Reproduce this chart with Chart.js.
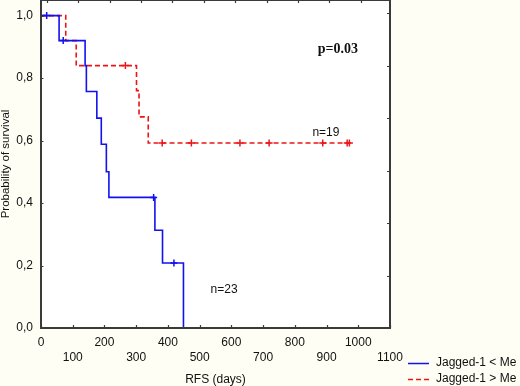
<!DOCTYPE html>
<html><head><meta charset="utf-8">
<script src="https://cdn.jsdelivr.net/npm/chart.js@4/dist/chart.umd.min.js"></script>
<style>html,body{margin:0;padding:0;background:#fefef4;} canvas{display:block}</style>
</head><body>
<canvas id="c" width="520" height="386"></canvas>
<script>
// ---- data ----
const seriesLabels = ['Jagged-1 < Me', 'Jagged-1 > Me'];
const lowDays  = [0, 57, 139, 143, 176, 190, 206, 214, 359, 383, 449];
const lowSurv  = [1.0, 0.92, 0.84, 0.757, 0.672, 0.588, 0.50, 0.418, 0.313, 0.208, 0.0];
const lowCensDays = [18, 70, 355, 419];
const lowCensSurv = [1.0, 0.92, 0.418, 0.208];
const highDays = [0, 78, 111, 301, 309, 338, 973];
const highSurv = [1.0, 0.92, 0.84, 0.76, 0.676, 0.592, 0.592];
const highCensDays = [266, 382, 474, 627, 719, 888, 965, 972];
const highCensSurv = [0.84, 0.592, 0.592, 0.592, 0.592, 0.592, 0.592, 0.592];
const xTickValues = [0, 100, 200, 300, 400, 500, 600, 700, 800, 900, 1000, 1100];
const xTickLabels = ['0','100','200','300','400','500','600','700','800','900','1000','1100'];
const yTickValues = [0, 0.2, 0.4, 0.6, 0.8, 1.0];
const yTickLabels = ['0,0','0,2','0,4','0,6','0,8','1,0'];
const topTickValues = [18, 117, 216, 315, 414, 513, 612, 711, 810, 909, 1008];
const rightTickValues = [0.168, 0.336, 0.504, 0.672, 0.84, 1.008];
const notes = [
  {text: 'p=0.03', x: 936, y: 0.892, bold: true},
  {text: 'n=19', x: 898, y: 0.626},
  {text: 'n=23', x: 577, y: 0.124}
];

const BLUE = '#1212ee', RED = '#ee1414';
const SANS = '"Liberation Sans", Arial, sans-serif';
const pts = (xs, ys) => xs.map((d, i) => ({x: d, y: ys[i]}));

const decor = {
  id: 'decor',
  beforeDraw(chart) {
    const {ctx, chartArea: a} = chart;
    ctx.save();
    ctx.fillStyle = '#fefef4';
    ctx.fillRect(0, 0, chart.width, chart.height);
    ctx.fillStyle = '#ffffff';
    ctx.fillRect(a.left, a.top, a.right - a.left, a.bottom - a.top);
    ctx.restore();
  },
  afterDatasetsDraw(chart) {
    const {ctx, chartArea: a, scales: {x, y}} = chart;
    ctx.save();
    ctx.strokeStyle = '#3a3a3a';
    ctx.lineWidth = 1.2;
    ctx.beginPath();
    xTickValues.forEach(v => { const px = Math.round(x.getPixelForValue(v)) + 0.5; ctx.moveTo(px, a.bottom); ctx.lineTo(px, a.bottom - 3); });
    topTickValues.forEach(v => { const px = Math.round(x.getPixelForValue(v)) + 0.5; ctx.moveTo(px, a.top); ctx.lineTo(px, a.top + 3); });
    rightTickValues.forEach(v => { const py = Math.round(y.getPixelForValue(v)) + 0.5; ctx.moveTo(a.right, py); ctx.lineTo(a.right - 3, py); });
    yTickValues.forEach(v => { const py = Math.round(y.getPixelForValue(v)) + 0.5; ctx.moveTo(a.left, py); ctx.lineTo(a.left + 2.5, py); });
    ctx.stroke();
    ctx.lineWidth = 2;
    ctx.strokeRect(a.left, a.top, a.right - a.left, a.bottom - a.top);
    ctx.restore();
  },
  afterDraw(chart) {
    const {ctx, scales: {x, y}} = chart;
    ctx.save();
    ctx.fillStyle = '#111';
    ctx.textAlign = 'center';
    ctx.textBaseline = 'middle';
    notes.forEach(n => {
      ctx.font = n.bold ? 'bold 14px "Liberation Serif", "Times New Roman", serif' : '12px ' + SANS;
      ctx.fillText(n.text, x.getPixelForValue(n.x), y.getPixelForValue(n.y));
    });
    // legend
    const rows = [363, 379];
    [0, 1].forEach(i => {
      const ds = chart.data.datasets[i];
      ctx.strokeStyle = ds.borderColor;
      ctx.lineWidth = 1.5;
      ctx.setLineDash(ds.borderDash || []);
      ctx.beginPath();
      ctx.moveTo(408, rows[i] + 0.5); ctx.lineTo(429, rows[i] + 0.5);
      ctx.stroke();
      ctx.setLineDash([]);
      ctx.fillStyle = '#111';
      ctx.textAlign = 'left';
      ctx.font = '12px ' + SANS;
      ctx.fillText(ds.label, 436, rows[i]);
    });
    ctx.restore();
  }
};

new Chart(document.getElementById('c'), {
  type: 'line',
  data: {
    datasets: [
      {label: seriesLabels[0], data: pts(lowDays, lowSurv), stepped: true, borderColor: BLUE, borderWidth: 1.6, pointRadius: 0, fill: false},
      {label: seriesLabels[1], data: pts(highDays, highSurv), stepped: true, borderColor: RED, borderWidth: 1.6, borderDash: [5, 3], pointRadius: 0, fill: false},
      {type: 'scatter', label: 'c1', data: pts(lowCensDays, lowCensSurv), showLine: false, pointStyle: 'cross', pointRadius: 3.5, borderColor: BLUE, borderWidth: 1.5},
      {type: 'scatter', label: 'c2', data: pts(highCensDays, highCensSurv), showLine: false, pointStyle: 'cross', pointRadius: 3.5, borderColor: RED, borderWidth: 1.5}
    ]
  },
  options: {
    responsive: false, animation: false, devicePixelRatio: 1,
    layout: {autoPadding: false, padding: {top: 0, right: 130, left: 0, bottom: 0}},
    plugins: {legend: {display: false}, tooltip: {enabled: false}},
    scales: {
      x: {
        type: 'linear', min: 0, max: 1100,
        grid: {display: false, drawTicks: false}, border: {display: false},
        afterBuildTicks: s => { s.ticks = xTickValues.map(v => ({value: v})); },
        afterFit: s => { s.height = 58; s.paddingLeft = 0; s.paddingRight = 0; },
        ticks: {
          autoSkip: false, maxRotation: 0, minRotation: 0, padding: 7, color: '#111',
          font: {family: SANS, size: 12, lineHeight: 1.25},
          callback: (v) => { const i = xTickValues.indexOf(v); return i % 2 === 0 ? xTickLabels[i] : ['', xTickLabels[i]]; }
        },
        title: {display: true, text: 'RFS (days)', color: '#111', padding: 0, font: {family: SANS, size: 12, lineHeight: 1}}
      },
      y: {
        min: 0, max: 1.05,
        grid: {display: false, drawTicks: false}, border: {display: false},
        afterBuildTicks: s => { s.ticks = yTickValues.map(v => ({value: v})); },
        afterFit: s => { s.width = 41; s.paddingTop = 0; s.paddingBottom = 0; },
        ticks: {
          padding: 8, color: '#111', font: {family: SANS, size: 12},
          callback: (v) => yTickLabels[yTickValues.findIndex(t => Math.abs(t - v) < 1e-9)]
        },
        title: {display: true, text: 'Probability of survival', color: '#111', padding: 0, font: {family: SANS, size: 11.5, lineHeight: 1}}
      }
    }
  },
  plugins: [decor]
});
</script>
</body></html>
